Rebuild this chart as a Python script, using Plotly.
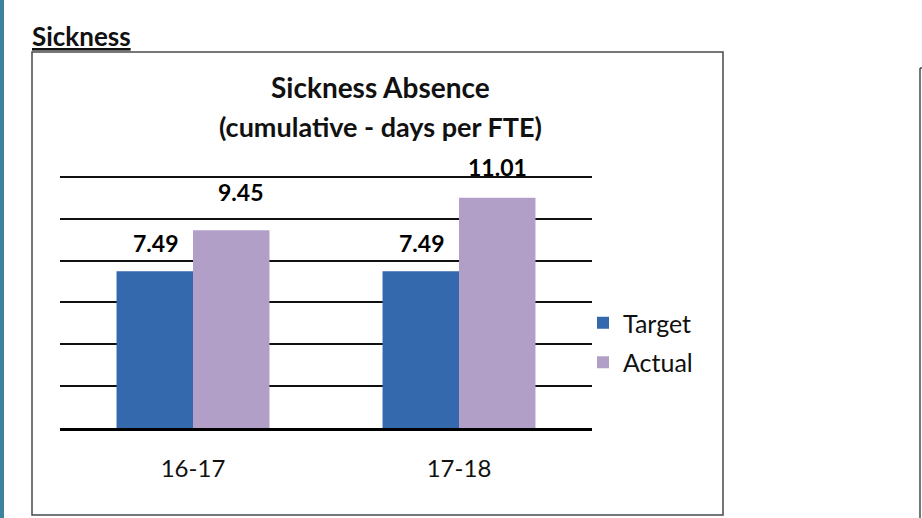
import plotly.graph_objects as go

# ---- data ----
categories = ["16-17", "17-18"]
target_values = [7.49, 7.49]
actual_values = [9.45, 11.01]
series_names = ["Target", "Actual"]
heading = "Sickness"
title_lines = ["Sickness Absence", "(cumulative - days per FTE)"]

# ---- styles ----
FONT = "Lato"
W, H = 922, 518
target_color = "#3469AE"
actual_color = "#B29FC7"

def px_x(p):
    return p / W

def px_y(p):
    return (H - p) / H

# y axis: 0 at 428 px, 12 at 177 px; range extended slightly so top gridline shows
Y0_PX, Y12_PX = 428, 177
YMAX = 12.1
top_px = Y0_PX - YMAX * (Y0_PX - Y12_PX) / 12

fig = go.Figure()
fig.add_trace(go.Bar(x=categories, y=target_values, name=series_names[0],
                     marker=dict(color=target_color, line=dict(width=0)),
                     legendgroup="t"))
fig.add_trace(go.Bar(x=categories, y=actual_values, name=series_names[1],
                     marker=dict(color=actual_color, line=dict(width=0)),
                     legendgroup="a"))

# value labels above bars
label_nudge_x = [[0, 0], [9, 0]]
label_nudge_y = [[0, 0], [10, 3]]
annotations = []
for si, vals in enumerate([target_values, actual_values]):
    side = -38 if si == 0 else 38
    for ci, (c, v) in enumerate(zip(categories, vals)):
        annotations.append(dict(
            x=c, y=v, xref="x", yref="y", text=f"<b>{v:.2f}</b>", showarrow=False,
            xshift=side + label_nudge_x[si][ci], yshift=28 + label_nudge_y[si][ci],
            yanchor="middle", xanchor="center",
            font=dict(family=FONT, size=23, color="#000000")))

# titles
annotations.append(dict(x=px_x(380), y=px_y(87), xref="paper", yref="paper",
                        text=f"<b>{title_lines[0]}</b>", showarrow=False,
                        xanchor="center", yanchor="middle",
                        font=dict(family=FONT, size=28, color="#111111")))
annotations.append(dict(x=px_x(380), y=px_y(127), xref="paper", yref="paper",
                        text=f"<b>{title_lines[1]}</b>", showarrow=False,
                        xanchor="center", yanchor="middle",
                        font=dict(family=FONT, size=27, color="#111111")))
annotations.append(dict(x=px_x(30), y=px_y(36), xref="paper", yref="paper",
                        text=f"<b><u>{heading}</u></b>", showarrow=False,
                        xanchor="left", yanchor="middle",
                        font=dict(family=FONT, size=26, color="#111111")))

shapes = [
    # chart box
    dict(type="rect", xref="paper", yref="paper", x0=px_x(32), x1=px_x(723),
         y0=px_y(515), y1=px_y(52), line=dict(color="#4a4a4a", width=1.5),
         fillcolor="rgba(0,0,0,0)", layer="below"),
    # left page border
    dict(type="rect", xref="paper", yref="paper", x0=0, x1=px_x(4),
         y0=0, y1=1, line=dict(width=0), fillcolor="#3E839E"),
    # right neighbouring box edge
    dict(type="line", xref="paper", yref="paper", x0=px_x(920), x1=px_x(920),
         y0=0, y1=px_y(68), line=dict(color="#4a4a4a", width=1.5)),
    dict(type="line", xref="paper", yref="paper", x0=px_x(920), x1=1,
         y0=px_y(68), y1=px_y(68), line=dict(color="#4a4a4a", width=1.5)),
]

fig.update_layout(
    width=W, height=H, autosize=False,
    margin=dict(l=0, r=0, t=0, b=0),
    paper_bgcolor="white", plot_bgcolor="white",
    barmode="group", bargap=0.425, bargroupgap=0,
    font=dict(family=FONT, color="#111111"),
    showlegend=True,
    legend=dict(x=px_x(583), y=px_y(300), xanchor="left", yanchor="top",
                font=dict(family=FONT, size=25, color="#111111"),
                traceorder="grouped", tracegroupgap=4,
                bgcolor="rgba(0,0,0,0)", borderwidth=0),
    annotations=annotations,
    shapes=shapes,
    xaxis=dict(domain=[px_x(60), px_x(592)], showgrid=False,
               showline=True, linecolor="#000000", linewidth=2.5,
               ticks="", tickfont=dict(family=FONT, size=24, color="#111111"),
               ticklabelstandoff=18, fixedrange=True),
    yaxis=dict(domain=[px_y(Y0_PX), px_y(top_px)], range=[0, YMAX], dtick=2,
               showgrid=True, gridcolor="#111111", gridwidth=2,
               zeroline=False, showticklabels=False, ticks="",
               fixedrange=True),
)

fig.write_html("out.html",
               config={"displayModeBar": False, "staticPlot": True},
               post_script="document.body.style.margin='0px';document.body.style.overflow='hidden';")
